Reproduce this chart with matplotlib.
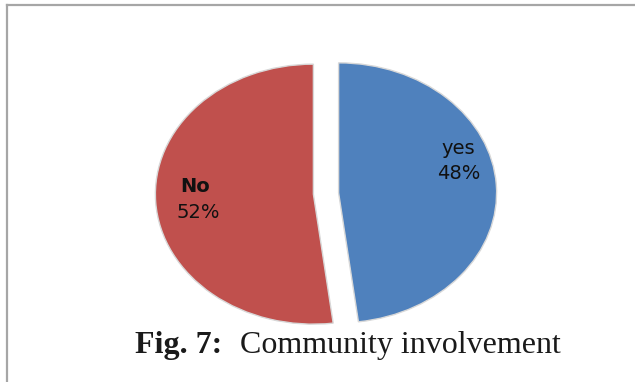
import matplotlib.pyplot as plt
from matplotlib.lines import Line2D

# survey answers
labels = ["yes", "No"]
shares = [48, 52]
colors = ["#4F81BD", "#C0504D"]
caption_bold = "Fig. 7:"
caption_text = "Community involvement"

W, H = 635, 382
fig = plt.figure(figsize=(W / 100, H / 100), dpi=100)
fig.patch.set_facecolor("white")

# pie axes, stretched so the pie comes out as a wide ellipse
rx, ry = 158, 130
cx, cy = 326, 193.5
lim = 1.25
aw, ah = 2 * lim * rx, 2 * lim * ry
ax = fig.add_axes([(cx - aw / 2) / W, (H - cy - ah / 2) / H, aw / W, ah / H])

wedges, _ = ax.pie(
    shares,
    colors=colors,
    startangle=90,
    counterclock=False,
    explode=[0.08, 0.08],
    radius=1.0,
    wedgeprops=dict(edgecolor="#d8d8d8", linewidth=1.0),
)
ax.set_aspect("auto")
ax.set_xlim(-lim, lim)
ax.set_ylim(-lim, lim)

# slice labels
lab = dict(ha="center", va="center", fontsize=14, family="DejaVu Sans", color="#111111")
ax.text(0.84, 0.35, labels[0], **lab)
ax.text(0.84, 0.155, f"{shares[0]}%", **lab)
ax.text(-0.83, 0.05, labels[1], fontweight="bold", **lab)
ax.text(-0.81, -0.15, f"{shares[1]}%", **lab)

# caption under the pie
fig.text(135 / W, 1 - 346 / H, caption_bold, ha="left", va="center",
         fontsize=23, family="Liberation Serif", fontweight="bold", color="#1a1a1a")
fig.text(240 / W, 1 - 346 / H, caption_text, ha="left", va="center",
         fontsize=23, family="Liberation Serif", color="#1a1a1a")

# frame lines on the top and left
fig.add_artist(Line2D([6.5 / W, 1], [1 - 4.5 / H, 1 - 4.5 / H], color="#a6a6a6", lw=1.6))
fig.add_artist(Line2D([6.5 / W, 6.5 / W], [0, 1 - 4.5 / H], color="#a6a6a6", lw=1.6))

fig.savefig("out.png", dpi=100)
